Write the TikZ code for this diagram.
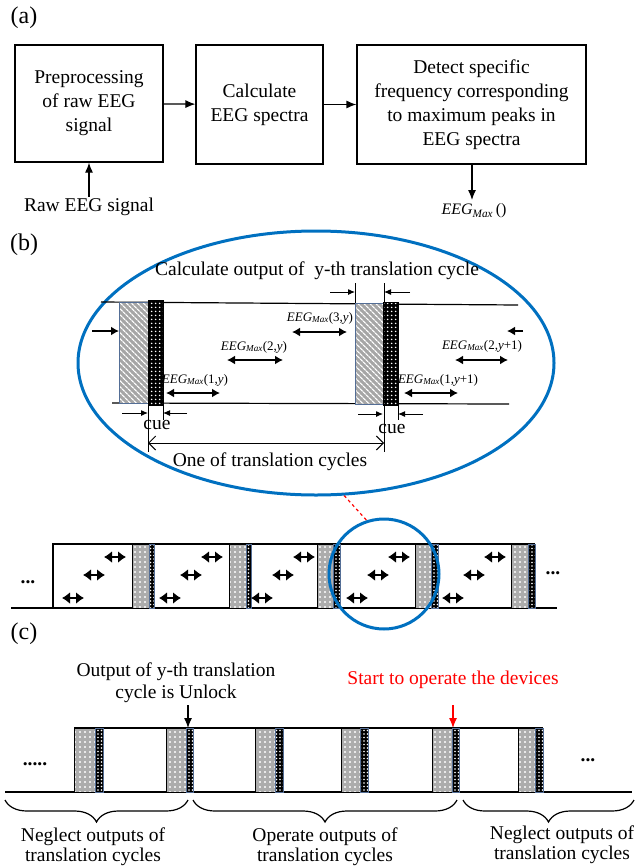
\documentclass[tikz,border=0pt]{standalone}
\usepackage{fontspec}
\setmainfont{Liberation Serif}
\usetikzlibrary{arrows.meta,patterns.meta,shapes.geometric,decorations.pathreplacing}

\definecolor{lensblue}{RGB}{0,112,192}
\definecolor{rimblue}{RGB}{84,110,150}
\newcommand{\eegmax}[1]{\textit{EEG}\textsubscript{\textit{Max}}(#1)}

\tikzset{
  every node/.style={font=\fontsize{19.5}{24}\selectfont, inner sep=1pt},
  proc/.style={draw, line width=1.2pt, align=center},
  tag/.style={font=\fontsize{24}{28}\selectfont},
  small/.style={font=\fontsize{13}{15}\selectfont},
  hatchbar/.style={preaction={fill=gray!70}, pattern color=white,
    pattern={Lines[angle=-45,distance=4pt,line width=1.3pt]}, draw=rimblue, line width=.8pt},
  cuebar/.style={preaction={fill=black}, pattern color=white,
    pattern={Dots[distance=4pt,radius=1pt]}, draw=black, line width=.8pt},
  greybar/.style={preaction={fill=gray!65}, pattern color=white,
    pattern={Dots[distance=5pt,radius=1.1pt]}, draw=black, line width=1pt},
  cuestrip/.style={preaction={fill=black}, pattern color=white,
    pattern={Dots[distance=3.5pt,radius=.8pt]}, draw=rimblue, line width=1pt},
  fatarrow/.style={line width=2.6pt, -{Latex[length=8pt,width=9pt]}},
  fattwin/.style={line width=2.6pt, {Latex[length=8pt,width=9pt]}-{Latex[length=8pt,width=9pt]}},
  minitwin/.style={line width=2.6pt, {Latex[length=8pt,width=12pt]}-{Latex[length=8pt,width=12pt]}},
  cuearrow/.style={line width=1pt, -{Latex[length=7pt,width=6pt]}},
  span/.style={line width=1pt, {Straight Barb[length=7pt,width=14pt]}-{Straight Barb[length=7pt,width=14pt]}},
  rim/.style={line width=1.2pt},
  twoline/.style={align=center, font=\fontsize{19.5}{20}\selectfont}
}

\begin{document}
\begin{tikzpicture}[x=1pt, y=-1pt, >={Latex[length=10pt,width=8pt]}]
	\useasboundingbox (0,0) rectangle (637,867);

	% (a) processing chain
	\node[tag] (ta) at (24,18) {(a)};
	\node[proc, minimum width=148, minimum height=117] (pre) at (89,103.5) {Preprocessing\\of raw EEG\\signal};
	\node[proc, minimum width=127, minimum height=119] (spec) at (259.5,104.5) {Calculate\\EEG spectra};
	\node[proc, minimum width=229, minimum height=119] (det) at (471.5,104.5) {Detect specific\\frequency corresponding\\to maximum peaks in\\EEG spectra};
	\node (raw) at (89,207) {Raw EEG signal};
	\node[font=\fontsize{16}{18}\selectfont] (emax) at (474,211) {\textit{EEG}\textsubscript{\textit{Max}}\,()};

	\path[->, line width=1.2pt] (pre) edge (spec);
	\path[->, line width=1.2pt] (spec) edge (det);
	\path[->, line width=1.2pt] (raw) edge (pre);
	\path[->, line width=1.2pt] (det.south -| 472,0) edge (472,200);

	% (b) one translation cycle, zoomed
	\node[tag] (tb) at (24,245) {(b)};
	\node[ellipse, draw=lensblue, line width=3pt, minimum width=476, minimum height=264, inner sep=0] (lens) at (316,363) {};
	\node (calc) at (317,271) {Calculate output of \ y-th translation cycle};

	\draw[rim] (101,302) -- (518,305);
	\draw[rim] (112,403) -- (509,404);
	\draw[hatchbar] (119,302) rectangle (148,403);
	\draw[cuebar] (148,300) rectangle (163,405);
	\draw[hatchbar] (355,303) rectangle (383,404);
	\draw[cuebar] (383,302) rectangle (398,405);

	\draw[fatarrow] (92,331) -- (119,331);
	\draw[fatarrow] (523,331) -- (507,331);

	\draw[line width=1pt] (355,283) -- (355,303);
	\draw[line width=1pt] (384,283) -- (384,303);
	\draw[cuearrow] (330,292) -- (355,292);
	\draw[cuearrow] (410,292) -- (384,292);

	\node[small] (e1) at (195,380) {\eegmax{1,\textit{y}}};
	\node[small] (e2) at (254,347) {\eegmax{2,\textit{y}}};
	\node[small] (e3) at (320,318) {\eegmax{3,\textit{y}}};
	\node[small] (e4) at (438,380) {\eegmax{1,\textit{y}+1}};
	\node[small] (e5) at (482,346) {\eegmax{2,\textit{y}+1}};
	\draw[fattwin] (166,393) -- (220,393);
	\draw[fattwin] (227,360) -- (283,360);
	\draw[fattwin] (292,332) -- (347,332);
	\draw[fattwin] (404,393) -- (458,393);
	\draw[fattwin] (455,360) -- (508,360);

	% cue marks
	\draw[line width=1pt] (148,403) -- (148,452);
	\draw[line width=1pt] (163,405) -- (163,420);
	\draw[cuearrow] (122,413) -- (148,413);
	\draw[cuearrow] (187,413) -- (163,413);
	\node (cue1) at (157,425) {cue};
	\draw[line width=1pt] (384,405) -- (384,452);
	\draw[line width=1pt] (398,405) -- (398,420);
	\draw[cuearrow] (358,414) -- (383,414);
	\draw[cuearrow] (423,414) -- (398,414);
	\node (cue2) at (392,429) {cue};

	\draw[span] (148,443) -- (384,443);
	\node (cyc) at (270,462) {One of translation cycles};

	% strip of cycles
	\draw[rim] (53,608) -- (53,544) -- (535,544);
	\draw[rim] (11,608) -- (557,608);
	\foreach \a/\b/\c in {132/149/154,229/246/251,317/333/340,415/431/438,511/528/535}{
		\draw[greybar] (\a,544) rectangle (\b,608);
		\draw[cuestrip] (\b,544) rectangle (\c,608);
	}
	\foreach \x in {73,170,262,357,453}{
		\foreach \d/\h in {0/598,21/575,42/557}{
			\draw[minitwin] ({\x+\d-11},\h) -- ({\x+\d+11},\h);
		}
	}
	\node (ldots) at (28,582) {\textbf{...}};
	\node (rdots) at (553,573) {\textbf{...}};

	\node[circle, draw=lensblue, line width=3pt, minimum size=110, inner sep=0] (loupe) at (384,574) {};
	\draw[red, dashed, line width=1.2pt] (lens.-78) -- (loupe.108);

	% (c) unlock and operation
	\node[tag] (tc) at (24,634) {(c)};
	\node[align=center, font=\fontsize{19.5}{22}\selectfont] (unl) at (176,683) {Output of y-th translation\\cycle is Unlock};
	\node[red] (start) at (453,680) {Start to operate the devices};
	\coordinate (ua) at (188,705);
	\coordinate (ub) at (188,728);
	\coordinate (sa) at (453,705);
	\coordinate (sb) at (453,728);
	\path[->, line width=1.2pt] (ua) edge (ub);
	\path[->, red, line width=1.2pt] (sa) edge (sb);

	\draw[rim] (74,728) -- (543,728);
	\draw[rim] (5,792) -- (632,792);
	\foreach \a/\b/\c in {74/95/103,166/186/193,255/275/283,341/360/368,432/452/459,518/535/543}{
		\draw[greybar] (\a,728) rectangle (\b,792);
		\draw[cuestrip] (\b,728) rectangle (\c,792);
	}
	\node (cdots) at (35,764) {\textbf{.....}};
	\node (ddots) at (588,760) {\textbf{...}};

	\draw[rim, decorate, decoration={brace, mirror, amplitude=22pt}] (5,800) -- (188,800);
	\draw[rim, decorate, decoration={brace, mirror, amplitude=22pt}] (193,800) -- (457,800);
	\draw[rim, decorate, decoration={brace, mirror, amplitude=22pt}] (463,800) -- (634,800);
	\node[twoline] (neg1) at (93,847) {Neglect outputs of\\translation cycles};
	\node[twoline] (opr) at (325,847) {Operate outputs of\\translation cycles};
	\node[twoline] (neg2) at (562,845) {Neglect outputs of\\translation cycles};
\end{tikzpicture}
\end{document}
